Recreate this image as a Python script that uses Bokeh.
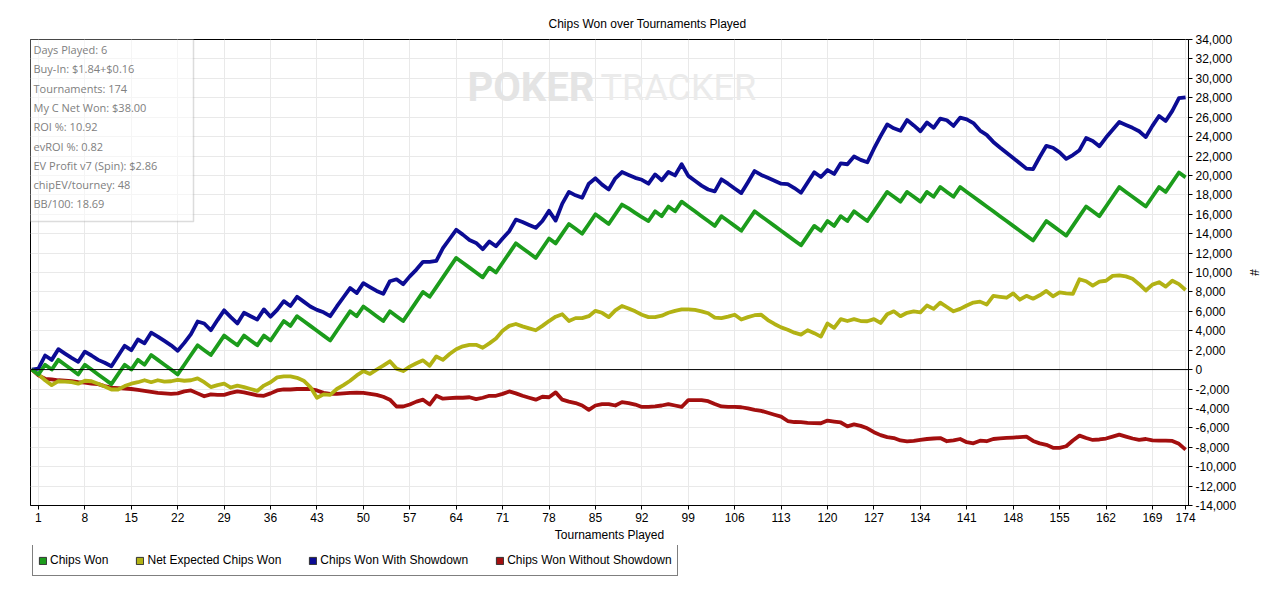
from bokeh.plotting import figure
from bokeh.layouts import column
from bokeh.models import (ColumnDataSource, FixedTicker, NumeralTickFormatter, Span,
                          Legend, LegendItem, BoxAnnotation, Label, Title, Range1d)
from bokeh.embed import file_html
from bokeh.resources import INLINE

# ---------------- data ----------------
tournaments = list(range(0, 175))

chips_won = [
    0, -500, 500, 0, 1000, 500, 0, -500, 500, 0,
    -500, -1000, -1500, -500, 500, 0, 1000, 500, 1500, 1000,
    500, 0, -500, 500, 1500, 2500, 2000, 1500, 2500, 3500,
    3000, 2500, 3500, 3000, 2500, 3500, 3000, 4000, 5000, 4500,
    5500, 5000, 4500, 4000, 3500, 3000, 4000, 5000, 6000, 5500,
    6500, 6000, 5500, 5000, 6000, 5500, 5000, 6000, 7000, 8000,
    7500, 8500, 9500, 10500, 11500, 11000, 10500, 10000, 9500, 10500,
    10000, 11000, 12000, 13000, 12500, 12000, 11500, 12500, 13500, 13000,
    14000, 15000, 14500, 14000, 15000, 16000, 15500, 15000, 16000, 17000,
    16600, 16150, 15700, 15300, 16300, 15800, 16800, 16300, 17300, 16800,
    16300, 15800, 15300, 14800, 15800, 15300, 14800, 14300, 15300, 16300,
    15800, 15300, 14800, 14300, 13800, 13300, 12800, 13800, 14800, 14300,
    15300, 14800, 15800, 15300, 16300, 15800, 15300, 16300, 17300, 18300,
    17800, 17300, 18300, 17800, 17300, 18300, 17800, 18800, 18300, 17800,
    18800, 18300, 17800, 17300, 16800, 16300, 15800, 15300, 14800, 14300,
    13800, 13300, 14300, 15300, 14800, 14300, 13800, 14800, 15800, 16800,
    16300, 15800, 16800, 17800, 18800, 18300, 17800, 17300, 16800, 17800,
    18800, 18300, 19300, 20300, 19800,
]

net_expected = [
    0, -500, -1100, -1600, -1200, -1250, -1300, -1450, -1150, -1200,
    -1450, -1750, -2050, -2050, -1700, -1450, -1300, -1100, -1300, -1100,
    -1250, -1200, -1050, -1150, -1100, -900, -1300, -1800, -1600, -1450,
    -1850, -1650, -1800, -2000, -2200, -1650, -1300, -800, -700, -700,
    -850, -1150, -1800, -2900, -2550, -2600, -2000, -1600, -1150, -600,
    -150, -450, 0, 400, 850, 100, -150, 300, 650, 950,
    400, 1350, 1000, 1600, 2100, 2400, 2550, 2550, 2250, 2700,
    3200, 4000, 4500, 4700, 4450, 4250, 4050, 4500, 5000, 5450,
    5700, 5000, 5300, 5300, 5500, 6050, 5850, 5400, 6100, 6550,
    6300, 6000, 5650, 5400, 5400, 5550, 5850, 6050, 6200, 6200,
    6150, 6000, 5800, 5350, 5300, 5450, 5650, 5150, 5400, 5600,
    5650, 5100, 4700, 4350, 4100, 3800, 3600, 4050, 3750, 3400,
    4750, 4300, 5200, 5000, 5200, 5000, 4980, 5200, 4800, 5700,
    6000, 5500, 5850, 6000, 5900, 6600, 6250, 6900, 6450, 6000,
    6250, 6600, 6900, 7000, 6700, 7600, 7500, 7400, 7850, 7200,
    7600, 7300, 7650, 8100, 7550, 7950, 7850, 7800, 9300, 9100,
    8650, 9050, 9150, 9650, 9700, 9600, 9350, 8800, 8150, 8750,
    9000, 8550, 9150, 8800, 8200,
]

with_showdown = [
    0, 100, 1450, 1000, 2100, 1650, 1200, 800, 1850, 1450,
    1000, 700, 350, 1400, 2450, 2000, 3100, 2700, 3800, 3400,
    2950, 2500, 1950, 2750, 3650, 4950, 4750, 4050, 5100, 6100,
    5400, 4750, 5850, 5500, 5150, 6200, 5450, 6150, 7050, 6550,
    7500, 7000, 6500, 6150, 5900, 5500, 6500, 7450, 8400, 7880,
    8900, 8500, 8100, 7800, 9100, 9300, 8800, 9600, 10300, 11100,
    11100, 11200, 12500, 13450, 14400, 13900, 13350, 13050, 12400, 13200,
    12700, 13500, 14250, 15450, 15200, 14900, 14600, 15300, 16350, 15350,
    17100, 18300, 17950, 17700, 19150, 19700, 19050, 18550, 19700, 20350,
    20050, 19750, 19550, 19150, 20100, 19500, 20350, 20000, 21150, 19950,
    19450, 18950, 18550, 18350, 19600, 19150, 18650, 18180, 19300, 20450,
    20050, 19750, 19450, 19150, 19100, 18700, 18220, 19280, 20320, 19830,
    20550, 20150, 21250, 21150, 21950, 21600, 21350, 22750, 24050, 25250,
    24850, 24600, 25700, 25150, 24550, 25450, 24900, 25850, 25680, 25100,
    25950, 25780, 25390, 24620, 24180, 23450, 22880, 22340, 21800, 21250,
    20700, 20650, 21900, 23050, 22850, 22370, 21700, 22100, 22600, 23850,
    23550, 23000, 23900, 24700, 25500, 25200, 24900, 24550, 23950, 25100,
    26120, 25610, 26650, 27950, 28050,
]

without_showdown = [
    0, -600, -950, -1000, -1100, -1150, -1200, -1300, -1350, -1450,
    -1500, -1700, -1850, -1900, -1950, -2000, -2100, -2200, -2300, -2400,
    -2450, -2500, -2450, -2250, -2150, -2450, -2750, -2550, -2600, -2600,
    -2400, -2250, -2350, -2500, -2650, -2700, -2450, -2150, -2050, -2050,
    -2000, -2000, -2000, -2150, -2400, -2500, -2500, -2450, -2400, -2380,
    -2400, -2500, -2600, -2800, -3100, -3800, -3800, -3600, -3300, -3100,
    -3600, -2700, -3000, -2950, -2900, -2900, -2850, -3050, -2900, -2700,
    -2700, -2500, -2250, -2450, -2700, -2900, -3100, -2800, -2850, -2350,
    -3100, -3300, -3450, -3700, -4150, -3700, -3550, -3550, -3700, -3350,
    -3450, -3600, -3850, -3850, -3800, -3700, -3550, -3700, -3850, -3150,
    -3150, -3150, -3250, -3550, -3800, -3850, -3850, -3880, -4000, -4150,
    -4250, -4450, -4650, -4850, -5300, -5400, -5420, -5480, -5520, -5530,
    -5250, -5350, -5450, -5850, -5650, -5800, -6050, -6450, -6750, -6950,
    -7050, -7300, -7400, -7350, -7250, -7150, -7100, -7050, -7380, -7300,
    -7150, -7480, -7590, -7320, -7380, -7150, -7080, -7040, -7000, -6950,
    -6900, -7350, -7600, -7750, -8050, -8070, -7900, -7300, -6800, -7050,
    -7250, -7200, -7100, -6900, -6700, -6900, -7100, -7250, -7150, -7300,
    -7320, -7310, -7350, -7650, -8250,
]

series_names = ["Chips Won", "Net Expected Chips Won",
                "Chips Won With Showdown", "Chips Won Without Showdown"]
series_colors = ["#1c9c1c", "#b2b214", "#0c0c94", "#a30f0f"]

x_ticks = [1, 8, 15, 22, 29, 36, 43, 50, 57, 64, 71, 78, 85, 92, 99, 106,
           113, 120, 127, 134, 141, 148, 155, 162, 169, 174]
y_ticks = [-14000, -12000, -10000, -8000, -6000, -4000, -2000, 0, 2000, 4000,
           6000, 8000, 10000, 12000, 14000, 16000, 18000, 20000, 22000, 24000,
           26000, 28000, 30000, 32000, 34000]

info_lines = ["Days Played: 6", "Buy-In: $1.84+$0.16", "Tournaments: 174",
              "My C Net Won: $38.00", "ROI %: 10.92", "evROI %: 0.82",
              "EV Profit v7 (Spin): $2.86", "chipEV/tourney: 48", "BB/100: 18.69"]

title_text = "Chips Won over Tournaments Played"
x_label = "Tournaments Played"
y_label = "#"

FONT = "Liberation Sans"
NAN = float("nan")

# ---------------- main figure ----------------
p = figure(width=1264, height=545,
           x_range=Range1d(-0.2, 174.44), y_range=Range1d(-14000, 34000),
           y_axis_location="right", toolbar_location=None, output_backend="svg",
           min_border_left=30, min_border_right=74, min_border_top=39,
           min_border_bottom=40, background_fill_color="white",
           border_fill_color="white", outline_line_color="black",
           outline_line_width=1)

p.title = Title(text=title_text, align="left", offset=518, text_font=FONT,
                text_font_size="12px", text_font_style="normal",
                text_color="black", standoff=18)

src = ColumnDataSource(dict(t=tournaments, cw=chips_won, ne=net_expected,
                            ws=with_showdown, wo=without_showdown))

p.xgrid.grid_line_color = "#e9e9e9"
p.ygrid.grid_line_color = "#e9e9e9"

xa = p.xaxis[0]
xa.ticker = FixedTicker(ticks=x_ticks)
xa.axis_label = x_label
ya = p.yaxis[0]
ya.ticker = FixedTicker(ticks=y_ticks)
ya.formatter = NumeralTickFormatter(format="0,0")
ya.axis_label = y_label
for ax in (xa, ya):
    ax.axis_line_color = "black"
    ax.major_tick_line_color = "black"
    ax.major_tick_out = 4
    ax.major_tick_in = 0
    ax.minor_tick_line_color = None
    ax.major_label_standoff = 3
    ax.major_label_text_font = FONT
    ax.major_label_text_font_size = "12px"
    ax.major_label_text_color = "black"
    ax.axis_label_text_font = FONT
    ax.axis_label_text_font_size = "12px"
    ax.axis_label_text_font_style = "normal"
    ax.axis_label_text_color = "black"
    ax.axis_label_standoff = 3
ya.axis_label_standoff = 8

p.add_layout(Span(location=0, dimension="width", line_color="black", line_width=1))

# watermark
p.add_layout(Label(x=437, y=418, x_units="screen", y_units="screen", text="POKER",
                   text_font="Roboto", text_font_size="40px", text_font_style="bold",
                   text_color="#e4e4e4", text_baseline="middle"))
p.add_layout(Label(x=570, y=418, x_units="screen", y_units="screen", text="TRACKER",
                   text_font="Roboto", text_font_size="36px", text_font_style="normal",
                   text_color="#ebebeb", text_baseline="middle"))

# series
p.line("t", "wo", source=src, line_color=series_colors[3], line_width=3.8, line_join="round")
p.line("t", "ne", source=src, line_color=series_colors[1], line_width=3.8, line_join="round")
p.line("t", "ws", source=src, line_color=series_colors[2], line_width=3.8, line_join="round")
p.line("t", "cw", source=src, line_color=series_colors[0], line_width=3.8, line_join="round")

# info box
p.add_layout(BoxAnnotation(left=-1, right=163, bottom=284, top=467,
                           left_units="screen", right_units="screen",
                           bottom_units="screen", top_units="screen",
                           fill_color="white", fill_alpha=0.55,
                           line_color="#8c8c8c", line_width=1.5))
for i, txt in enumerate(info_lines):
    p.add_layout(Label(x=3, y=456 - i * 19.3, x_units="screen", y_units="screen",
                       text=txt, text_font="Open Sans", text_font_size="11px",
                       text_color="#808080", text_baseline="middle"))

# ---------------- legend strip ----------------
lg = figure(width=1264, height=32, x_range=Range1d(0, 1), y_range=Range1d(0, 1),
            x_axis_location=None, y_axis_location=None, toolbar_location=None,
            output_backend="svg", min_border=0, outline_line_color=None,
            background_fill_color="white", border_fill_color="white")
lg.xgrid.visible = False
lg.ygrid.visible = False
swatches = [lg.quad(left=[NAN], right=[NAN], top=[NAN], bottom=[NAN], fill_color=c,
                    line_color="#333333") for c in series_colors]
legend = Legend(items=[LegendItem(label=n, renderers=[r]) for n, r in zip(series_names, swatches)],
                orientation="horizontal", location=(2, 1), glyph_width=9,
                glyph_height=9, label_standoff=3, spacing=27, padding=5, margin=0,
                border_line_color="black", border_line_width=1,
                background_fill_color="white", background_fill_alpha=1,
                label_text_font=FONT, label_text_font_size="12px",
                label_height=20, label_text_color="black")
lg.add_layout(legend)

layout = column(p, lg, spacing=0)
open("out.html", "w").write(file_html(layout, INLINE))
